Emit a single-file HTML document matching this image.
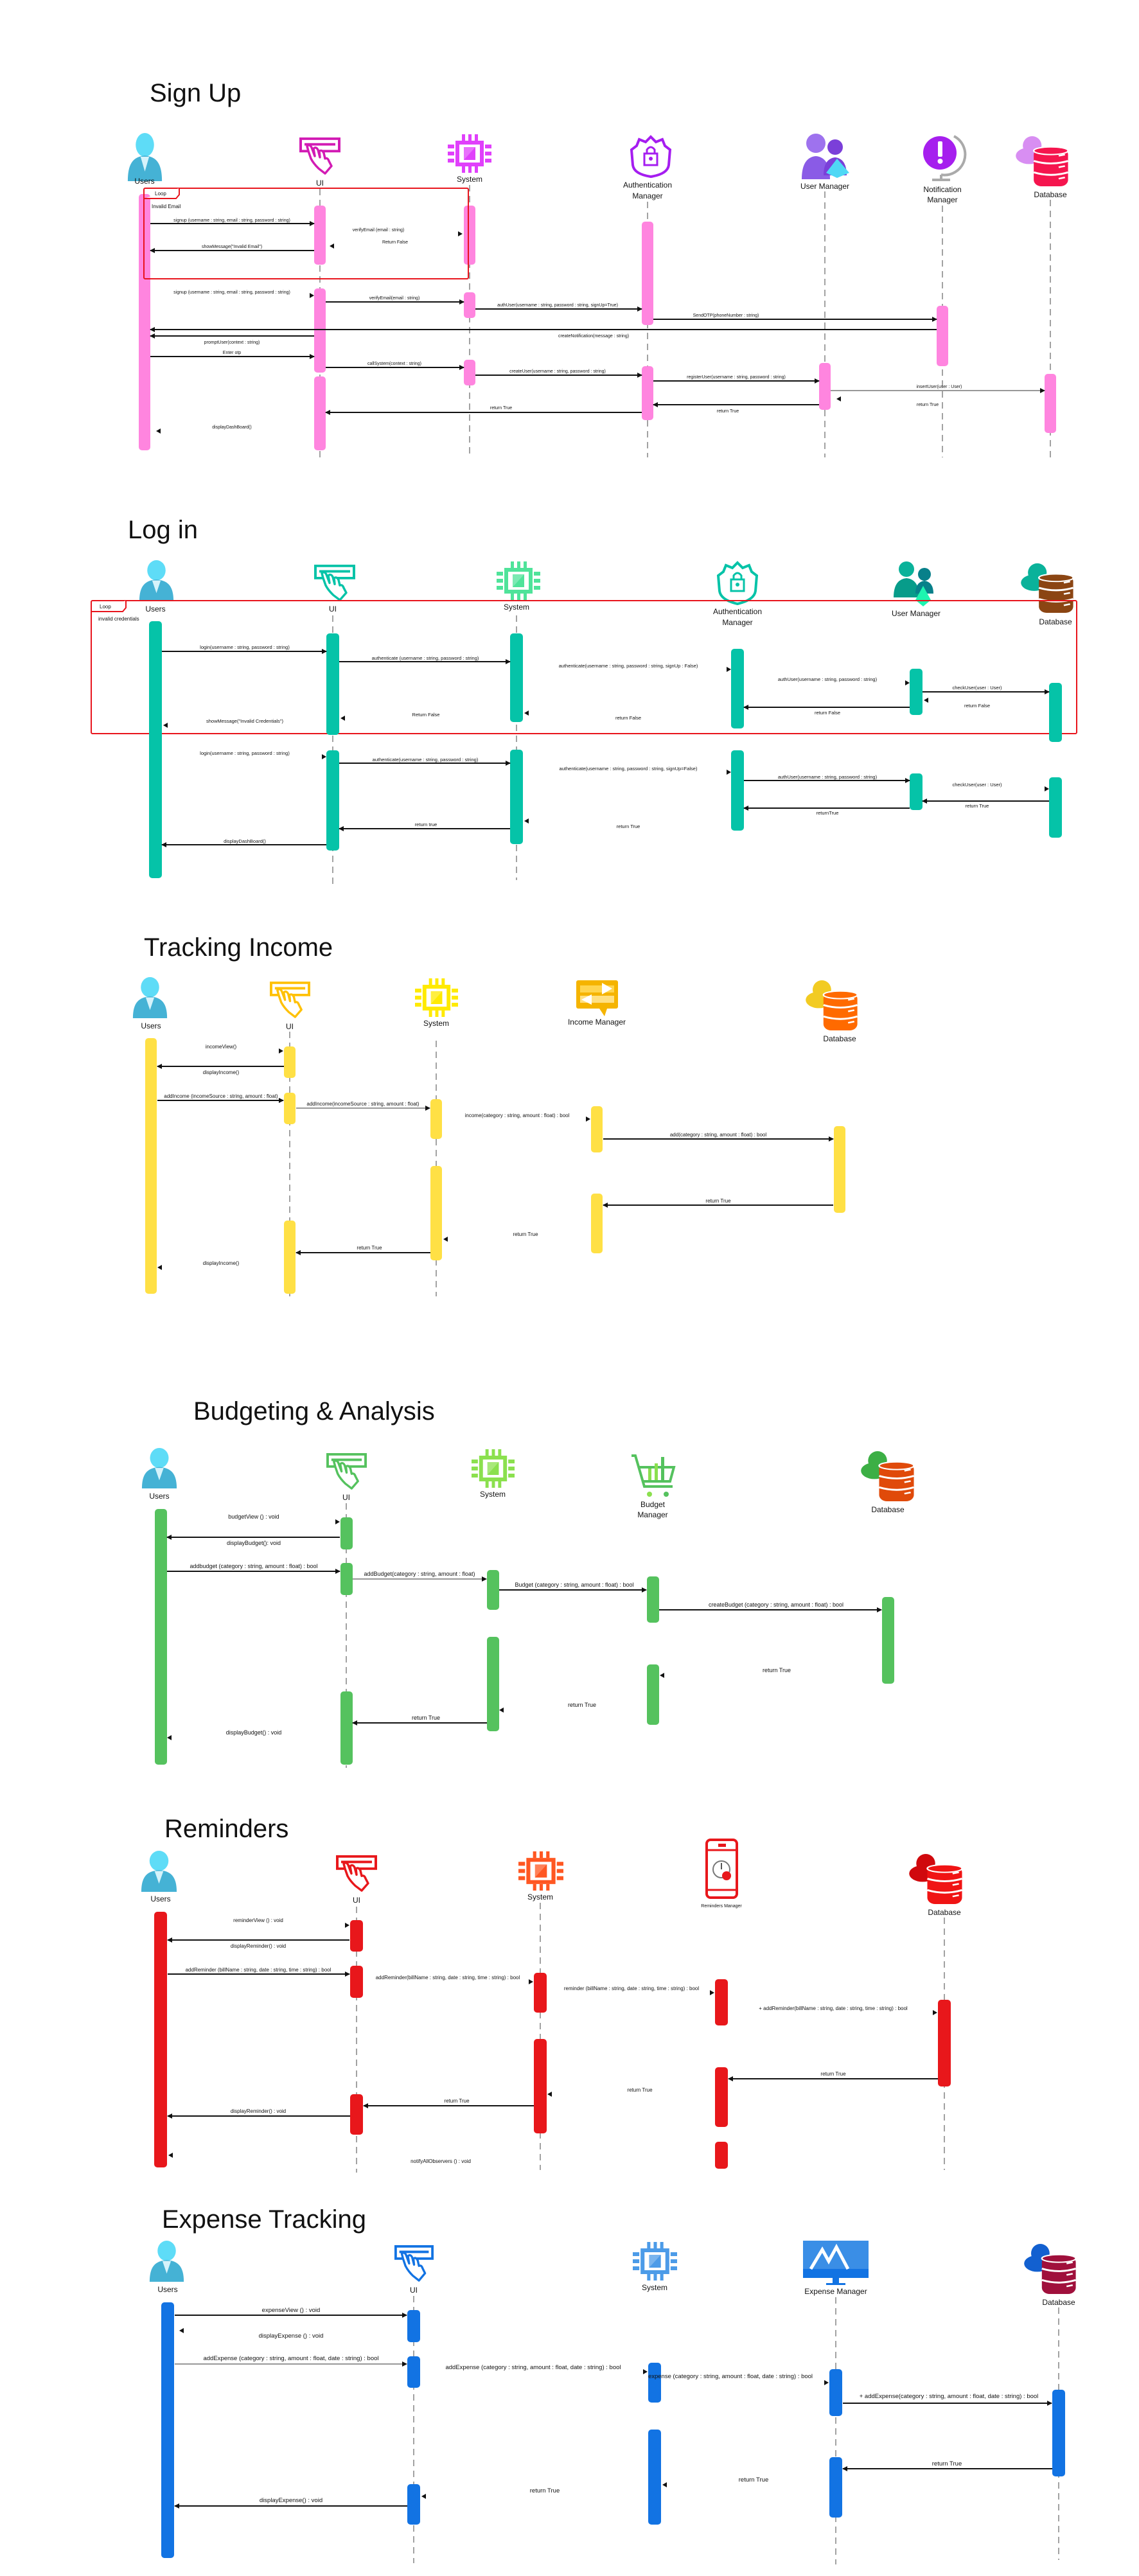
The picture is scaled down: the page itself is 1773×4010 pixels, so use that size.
<!DOCTYPE html>
<html><head><meta charset="utf-8"><style>
html,body{margin:0;padding:0;background:#fff}
svg{display:block}
text{font-family:"Liberation Sans",sans-serif;fill:#111}
.ttl{font-size:40px}
.lb{font-size:12px;text-anchor:middle}
.ll{stroke:#444;stroke-width:1;stroke-dasharray:10 7}
.m{stroke:#111;stroke-width:2;marker-end:url(#ah)}
.g{stroke:#777;stroke-width:1.5;marker-end:url(#ah)}
.ah{fill:#111}
.s1 .mt{font-size:7px;text-anchor:middle}
.s2 .mt{font-size:7.5px;text-anchor:middle}
.s3 .mt{font-size:8px;text-anchor:middle}
.s4 .mt{font-size:9px;text-anchor:middle}
.s5 .mt{font-size:8px;text-anchor:middle}
.s6 .mt{font-size:9.5px;text-anchor:middle}
</style></head><body>
<svg width="1773" height="4010" viewBox="0 0 1773 4010" xmlns="http://www.w3.org/2000/svg">
<defs>
<marker id="ah" markerWidth="8" markerHeight="8" refX="7" refY="4" orient="auto" markerUnits="userSpaceOnUse"><path d="M0,0L8,4L0,8Z" fill="#111"/></marker>
<symbol id="user" viewBox="0 0 60 85" preserveAspectRatio="none">
<ellipse cx="30" cy="21" rx="15" ry="21" fill="#5EDCF7"/>
<path d="M2 85C2 52 12 42 30 40C48 42 58 52 58 85Z" fill="#45B2D5"/>
<path d="M23 42L30 68L37 42Z" fill="#d6f3fb"/>
</symbol>
<symbol id="ui" viewBox="0 0 64 60" preserveAspectRatio="none">
<rect x="2" y="2" width="60" height="20" fill="none" stroke="currentColor" stroke-width="4"/>
<line x1="8" y1="11" x2="56" y2="11" stroke="currentColor" stroke-width="4"/>
<path d="M14 22L12 14Q16 10 19 16L24 30L22 18Q26 14 29 20L32 32L31 22Q35 19 38 25L40 34Q44 32 46 38L50 46L40 58L30 50Q22 42 18 34Z" fill="#fff" stroke="currentColor" stroke-width="3.5" stroke-linejoin="round"/>
</symbol>
<symbol id="chip" viewBox="0 0 68 60" preserveAspectRatio="none">
<g fill="currentColor">
<rect x="22" y="0" width="5" height="10"/><rect x="32" y="0" width="5" height="10"/><rect x="42" y="0" width="5" height="10"/>
<rect x="22" y="50" width="5" height="10"/><rect x="32" y="50" width="5" height="10"/><rect x="42" y="50" width="5" height="10"/>
<rect x="0" y="16" width="10" height="6"/><rect x="0" y="27" width="10" height="6"/><rect x="0" y="38" width="10" height="6"/>
<rect x="58" y="16" width="10" height="6"/><rect x="58" y="27" width="10" height="6"/><rect x="58" y="38" width="10" height="6"/>
<rect x="12" y="10" width="44" height="40"/></g>
<rect x="18" y="16" width="32" height="28" fill="#fff"/>
<rect x="25" y="20" width="18" height="20" fill="currentColor" opacity=".75"/>
<path d="M43 20L43 40L25 40Z" fill="currentColor"/>
</symbol>
<symbol id="db" viewBox="0 0 70 85" preserveAspectRatio="none">
<ellipse cx="22" cy="20" rx="12" ry="15" style="fill:var(--c1)"/>
<ellipse cx="18" cy="36" rx="17" ry="13" style="fill:var(--c1)"/>
<ellipse cx="34" cy="34" rx="12" ry="10" style="fill:var(--c1)"/>
<rect x="24" y="24" width="44" height="60" rx="10" style="fill:var(--c2)"/>
<ellipse cx="46" cy="28" rx="22" ry="6" style="fill:var(--c2)" stroke="#fff" stroke-width="2"/>
<path d="M24 44Q46 52 68 44M24 62Q46 70 68 62" stroke="#fff" stroke-width="3" fill="none"/>
<path d="M56 36L64 34M56 54L64 52M56 72L64 70" stroke="#fff" stroke-width="2.5"/>
</symbol>
</defs>

<!-- ============ SIGN UP ============ -->
<g class="s1">
<text class="ttl" x="233" y="158">Sign Up</text>
<use href="#user" x="197" y="207" width="57" height="75"/>
<use href="#ui" x="466" y="214" width="64" height="58" style="color:#D21BB4"/>
<use href="#chip" x="697" y="209" width="68" height="60" style="color:#E040FB"/>
<g transform="translate(983,213)"><path d="M30 0L38 8L48 4L52 14L60 20L58 44Q56 58 30 62Q4 58 2 44L0 20L8 14L12 4L22 8Z" fill="none" stroke="#A51DF0" stroke-width="4"/><rect x="20" y="26" width="20" height="18" fill="none" stroke="#A51DF0" stroke-width="3"/><path d="M24 26V20Q30 12 36 20V26" fill="none" stroke="#A51DF0" stroke-width="3"/><circle cx="30" cy="34" r="3" fill="#A51DF0"/></g>
<g transform="translate(1248,207)"><circle cx="22" cy="16" r="15" fill="#9E72EE"/><path d="M0 72Q0 38 22 36Q44 38 44 72Z" fill="#8A5BE6"/><circle cx="52" cy="22" r="12" fill="#7B3FD9"/><path d="M34 66Q34 40 52 38Q70 40 70 66Z" fill="#7B3FD9"/><path d="M55 40L38 62L55 70L74 62Z" fill="#4FD8F5"/></g>
<g transform="translate(1435,210)"><path d="M50 2A32 32 0 0 1 30 62" fill="none" stroke="#aaa" stroke-width="4"/><rect x="28" y="62" width="4" height="6" fill="#aaa"/><rect x="16" y="68" width="28" height="4" fill="#aaa"/><circle cx="28" cy="28" r="26" fill="#A61FEE"/><rect x="25" y="10" width="7" height="24" rx="2" fill="#fff"/><circle cx="28.5" cy="41" r="4" fill="#fff"/></g>
<use href="#db" x="1580" y="207" width="85" height="84" style="--c1:#D88EF2;--c2:#F5154E"/>
<text class="lb" x="225" y="286">Users</text>
<text class="lb" x="498" y="289">UI</text>
<text class="lb" x="731" y="283">System</text>
<text class="lb" x="1008" y="292">Authentication</text>
<text class="lb" x="1008" y="309">Manager</text>
<text class="lb" x="1284" y="294">User Manager</text>
<text class="lb" x="1467" y="299">Notification</text>
<text class="lb" x="1467" y="315">Manager</text>
<text class="lb" x="1635" y="307">Database</text>
<line class="ll" x1="498" y1="294" x2="498" y2="712"/>
<line class="ll" x1="731" y1="288" x2="731" y2="712"/>
<line class="ll" x1="1008" y1="314" x2="1008" y2="712"/>
<line class="ll" x1="1284" y1="298" x2="1284" y2="712"/>
<line class="ll" x1="1467" y1="320" x2="1467" y2="712"/>
<line class="ll" x1="1635" y1="311" x2="1635" y2="712"/>
<g fill="#FF85DF">
<rect x="216" y="302" width="18" height="399" rx="5"/>
<rect x="489" y="320" width="18" height="92" rx="5"/><rect x="489" y="449" width="18" height="131" rx="5"/><rect x="489" y="586" width="18" height="115" rx="5"/>
<rect x="722" y="320" width="18" height="92" rx="5"/><rect x="722" y="455" width="18" height="40" rx="5"/><rect x="722" y="560" width="18" height="40" rx="5"/>
<rect x="999" y="345" width="18" height="161" rx="5"/><rect x="999" y="570" width="18" height="84" rx="5"/>
<rect x="1458" y="476" width="18" height="94" rx="5"/>
<rect x="1275" y="565" width="18" height="73" rx="5"/>
<rect x="1626" y="582" width="18" height="92" rx="5"/>
</g>
<rect x="224" y="293" width="505" height="141" fill="none" stroke="#E8141C" stroke-width="2" rx="2"/>
<path d="M224 309H274L279 303V293" fill="#fff" stroke="#E8141C" stroke-width="2"/>
<text x="241" y="304" style="font-size:8px">Loop</text>
<text x="236" y="324" style="font-size:8px">Invalid Email</text>
<line class="m" x1="234" y1="348" x2="489" y2="348"/>
<text class="mt" x="361" y="345">signup (username : string, email : string, password : string)</text>
<text class="mt" x="589" y="360">verifyEmail (email : string)</text>
<path class="ah" d="M713 360L720 364L713 368Z"/>
<text class="mt" x="615" y="379">Return False</text>
<path class="ah" d="M520 379L513 383L520 387Z"/>
<line class="m" x1="489" y1="390" x2="234" y2="390"/>
<text class="mt" x="361" y="386">showMessage("Invalid Email")</text>
<text class="mt" x="361" y="457">signup (username : string, email : string, password : string)</text>
<path class="ah" d="M482 456L489 460L482 464Z"/>
<line class="m" x1="507" y1="470" x2="722" y2="470"/>
<text class="mt" x="614" y="466">verifyEmail(email : string)</text>
<line class="m" x1="740" y1="481" x2="999" y2="481"/>
<text class="mt" x="868" y="477">authUser(username : string, password : string, signUp=True)</text>
<line class="m" x1="1017" y1="497" x2="1458" y2="497"/>
<text class="mt" x="1130" y="493">SendOTP(phoneNumber : string)</text>
<line class="m" x1="1458" y1="513" x2="234" y2="513"/>
<text class="mt" x="924" y="525">createNotification(message : string)</text>
<line class="m" x1="489" y1="523" x2="234" y2="523"/>
<text class="mt" x="361" y="535">promptUser(context : string)</text>
<text class="mt" x="361" y="551">Enter otp</text>
<line class="m" x1="234" y1="555" x2="489" y2="555"/>
<line class="m" x1="507" y1="572" x2="722" y2="572"/>
<text class="mt" x="614" y="568">callSystem(context : string)</text>
<line class="m" x1="740" y1="584" x2="999" y2="584"/>
<text class="mt" x="868" y="580">createUser(username : string, password : string)</text>
<line class="m" x1="1017" y1="593" x2="1275" y2="593"/>
<text class="mt" x="1146" y="589">registerUser(username : string, password : string)</text>
<line class="g" x1="1293" y1="608" x2="1626" y2="608"/>
<text class="mt" x="1462" y="604">insertUser(user : User)</text>
<text class="mt" x="1444" y="632">return True</text>
<path class="ah" d="M1309 617L1302 621L1309 625Z"/>
<line class="m" x1="1275" y1="630" x2="1017" y2="630"/>
<text class="mt" x="1133" y="642">return True</text>
<line class="m" x1="999" y1="642" x2="507" y2="642"/>
<text class="mt" x="780" y="637">return True</text>
<text class="mt" x="361" y="667">displayDashBoard()</text>
<path class="ah" d="M250 667L243 671L250 675Z"/>
</g>

<!-- ============ LOG IN ============ -->
<g class="s2">
<text class="ttl" x="199" y="838">Log in</text>
<use href="#user" x="215" y="872" width="57" height="64"/>
<use href="#ui" x="489" y="879" width="64" height="57" style="color:#05C3A8"/>
<use href="#chip" x="773" y="874" width="68" height="60" style="color:#4FE39A"/>
<g transform="translate(1118,876)"><path d="M30 0L38 8L48 4L52 14L60 20L58 44Q56 58 30 64Q4 58 2 44L0 20L8 14L12 4L22 8Z" fill="none" stroke="#05C3A8" stroke-width="4"/><rect x="20" y="26" width="20" height="18" fill="none" stroke="#05C3A8" stroke-width="3"/><path d="M24 26V20Q30 12 36 20V26" fill="none" stroke="#05C3A8" stroke-width="3"/><circle cx="30" cy="34" r="3" fill="#05C3A8"/></g>
<g transform="translate(1389,872)"><circle cx="22" cy="14" r="12" fill="#0AB29A"/><path d="M2 58Q2 30 22 28Q42 30 42 58Z" fill="#079C8A"/><circle cx="50" cy="22" r="10" fill="#08808A"/><path d="M36 52Q36 34 50 32Q64 34 64 52Z" fill="#08808A"/><path d="M48 40L36 62L48 72L60 62Z" fill="#1DF5B0"/></g>
<use href="#db" x="1588" y="872" width="85" height="83" style="--c1:#0AB29A;--c2:#8B4513"/>
<rect x="142" y="935" width="1534" height="207" fill="none" stroke="#E8141C" stroke-width="2" rx="2"/>
<path d="M142 952H191L196 946V935" fill="#fff" stroke="#E8141C" stroke-width="2"/>
<text x="155" y="947" style="font-size:8px">Loop</text>
<text x="153" y="966" style="font-size:8px">invalid credentials</text>
<text class="lb" x="242" y="952">Users</text>
<text class="lb" x="518" y="952">UI</text>
<text class="lb" x="804" y="949">System</text>
<text class="lb" x="1148" y="956">Authentication</text>
<text class="lb" x="1148" y="973">Manager</text>
<text class="lb" x="1426" y="959">User Manager</text>
<text class="lb" x="1643" y="972">Database</text>
<line class="ll" x1="518" y1="958" x2="518" y2="1380"/>
<line class="ll" x1="804" y1="958" x2="804" y2="1370"/>
<g fill="#05C3A8">
<rect x="232" y="967" width="20" height="400" rx="5"/>
<rect x="508" y="986" width="20" height="158" rx="5"/><rect x="508" y="1168" width="20" height="156" rx="5"/>
<rect x="794" y="986" width="20" height="138" rx="5"/><rect x="794" y="1167" width="20" height="147" rx="5"/>
<rect x="1138" y="1010" width="20" height="124" rx="5"/><rect x="1138" y="1168" width="20" height="125" rx="5"/>
<rect x="1416" y="1041" width="20" height="72" rx="5"/><rect x="1416" y="1204" width="20" height="57" rx="5"/>
<rect x="1633" y="1063" width="20" height="92" rx="5"/><rect x="1633" y="1210" width="20" height="94" rx="5"/>
</g>
<line class="m" x1="252" y1="1014" x2="508" y2="1014"/>
<text class="mt" x="381" y="1010">login(username : string, password : string)</text>
<line class="m" x1="528" y1="1030" x2="794" y2="1030"/>
<text class="mt" x="662" y="1027">authenticate (username : string, password : string)</text>
<text class="mt" x="978" y="1039">authenticate(username : string, password : string, signUp : False)</text>
<path class="ah" d="M1131 1038L1138 1042L1131 1046Z"/>
<text class="mt" x="1288" y="1060">authUser(username : string, password : string)</text>
<path class="ah" d="M1409 1059L1416 1063L1409 1067Z"/>
<line class="m" x1="1436" y1="1077" x2="1633" y2="1077"/>
<text class="mt" x="1521" y="1073">checkUser(user : User)</text>
<text class="mt" x="1521" y="1101">return False</text>
<path class="ah" d="M1445 1086L1438 1090L1445 1094Z"/>
<line class="m" x1="1416" y1="1101" x2="1158" y2="1101"/>
<text class="mt" x="1288" y="1112">return False</text>
<text class="mt" x="978" y="1120">return False</text>
<path class="ah" d="M823 1106L816 1110L823 1114Z"/>
<text class="mt" x="663" y="1115">Return False</text>
<path class="ah" d="M537 1114L530 1118L537 1122Z"/>
<text class="mt" x="381" y="1125">showMessage("Invalid Credentials")</text>
<path class="ah" d="M261 1125L254 1129L261 1133Z"/>
<text class="mt" x="381" y="1175">login(username : string, password : string)</text>
<path class="ah" d="M501 1174L508 1178L501 1182Z"/>
<line class="m" x1="528" y1="1188" x2="794" y2="1188"/>
<text class="mt" x="662" y="1185">authenticate(username : string, password : string)</text>
<text class="mt" x="978" y="1199">authenticate(username : string, password : string, signUp=False)</text>
<path class="ah" d="M1131 1198L1138 1202L1131 1206Z"/>
<line class="m" x1="1158" y1="1215" x2="1416" y2="1215"/>
<text class="mt" x="1288" y="1212">authUser(username : string, password : string)</text>
<text class="mt" x="1521" y="1224">checkUser(user : User)</text>
<path class="ah" d="M1626 1224L1633 1228L1626 1232Z"/>
<line class="m" x1="1633" y1="1247" x2="1436" y2="1247"/>
<text class="mt" x="1521" y="1257">return True</text>
<line class="m" x1="1416" y1="1258" x2="1158" y2="1258"/>
<text class="mt" x="1288" y="1268">returnTrue</text>
<text class="mt" x="978" y="1289">return True</text>
<path class="ah" d="M823 1274L816 1278L823 1282Z"/>
<line class="m" x1="794" y1="1290" x2="528" y2="1290"/>
<text class="mt" x="663" y="1286">return true</text>
<line class="m" x1="508" y1="1315" x2="252" y2="1315"/>
<text class="mt" x="381" y="1312">displayDashBoard()</text>
</g>

<!-- ============ TRACKING INCOME ============ -->
<g class="s3">
<text class="ttl" x="224" y="1488">Tracking Income</text>
<use href="#user" x="205" y="1521" width="57" height="64"/>
<use href="#ui" x="420" y="1528" width="63" height="57" style="color:#FFC107"/>
<use href="#chip" x="646" y="1523" width="67" height="60" style="color:#FFEA00"/>
<g transform="translate(897,1526)"><rect x="0" y="0" width="65" height="44" rx="3" fill="#F5B400"/><rect x="6" y="8" width="53" height="11" fill="#FFD54F"/><rect x="6" y="24" width="53" height="11" fill="#FFE082"/><path d="M40 4L56 13L40 22Z" fill="#fff"/><path d="M24 22L8 30L24 38Z" fill="#fff"/><path d="M36 44L44 56L48 44Z" fill="#F5B400"/></g>
<use href="#db" x="1253" y="1521" width="84" height="84" style="--c1:#F2CB22;--c2:#FF6A00"/>
<text class="lb" x="235" y="1601">Users</text>
<text class="lb" x="451" y="1602">UI</text>
<text class="lb" x="679" y="1597">System</text>
<text class="lb" x="929" y="1595">Income Manager</text>
<text class="lb" x="1307" y="1621">Database</text>
<line class="ll" x1="451" y1="1606" x2="451" y2="2018"/>
<line class="ll" x1="679" y1="1620" x2="679" y2="2018"/>
<g fill="#FFE045">
<rect x="226" y="1616" width="18" height="398" rx="5"/>
<rect x="442" y="1629" width="18" height="49" rx="5"/><rect x="442" y="1701" width="18" height="49" rx="5"/><rect x="442" y="1900" width="18" height="114" rx="5"/>
<rect x="670" y="1711" width="18" height="62" rx="5"/><rect x="670" y="1815" width="18" height="147" rx="5"/>
<rect x="920" y="1722" width="18" height="72" rx="5"/><rect x="920" y="1858" width="18" height="93" rx="5"/>
<rect x="1298" y="1753" width="18" height="135" rx="5"/>
</g>
<text class="mt" x="344" y="1632">incomeView()</text>
<path class="ah" d="M434 1632L441 1636L434 1640Z"/>
<line class="m" x1="442" y1="1660" x2="245" y2="1660"/>
<text class="mt" x="344" y="1672">displayIncome()</text>
<line class="m" x1="245" y1="1713" x2="441" y2="1713"/>
<text class="mt" x="344" y="1709">addIncome (incomeSource : string, amount : float)</text>
<line class="g" x1="461" y1="1725" x2="669" y2="1725"/>
<text class="mt" x="565" y="1721">addIncome(incomeSource : string, amount : float)</text>
<text class="mt" x="805" y="1739">income(category : string, amount : float) : bool</text>
<path class="ah" d="M912 1738L919 1742L912 1746Z"/>
<line class="m" x1="939" y1="1773" x2="1297" y2="1773"/>
<text class="mt" x="1118" y="1769">add(category : string, amount : float) : bool</text>
<line class="m" x1="1297" y1="1876" x2="939" y2="1876"/>
<text class="mt" x="1118" y="1872">return True</text>
<text class="mt" x="818" y="1924">return True</text>
<path class="ah" d="M697 1925L690 1929L697 1933Z"/>
<line class="m" x1="670" y1="1950" x2="461" y2="1950"/>
<text class="mt" x="575" y="1945">return True</text>
<text class="mt" x="344" y="1969">displayIncome()</text>
<path class="ah" d="M252 1969L245 1973L252 1977Z"/>
</g>

<!-- ============ BUDGETING ============ -->
<g class="s4">
<text class="ttl" x="301" y="2210">Budgeting &amp; Analysis</text>
<use href="#user" x="219" y="2254" width="58" height="63"/>
<use href="#ui" x="508" y="2262" width="63" height="57" style="color:#55C25E"/>
<use href="#chip" x="734" y="2256" width="67" height="60" style="color:#8BE04E"/>
<g transform="translate(981,2264)" fill="none" stroke="#55C25E" stroke-width="4"><path d="M2 2L8 2L22 50H66"/><path d="M12 20H68L62 42H20"/><rect x="28" y="22" width="5" height="18" fill="#8BE04E" stroke="none"/><rect x="38" y="14" width="5" height="26" fill="#8BE04E" stroke="none"/><rect x="48" y="4" width="5" height="36" fill="#55C25E" stroke="none"/><circle cx="30" cy="62" r="4" fill="#8BE04E" stroke="none"/><circle cx="56" cy="62" r="4" fill="#55C25E" stroke="none"/></g>
<use href="#db" x="1339" y="2254" width="86" height="84" style="--c1:#3CAF45;--c2:#E04A0A"/>
<text class="lb" x="248" y="2333">Users</text>
<text class="lb" x="539" y="2335">UI</text>
<text class="lb" x="767" y="2330">System</text>
<text class="lb" x="1016" y="2346">Budget</text>
<text class="lb" x="1016" y="2362">Manager</text>
<text class="lb" x="1382" y="2354">Database</text>
<line class="ll" x1="539" y1="2340" x2="539" y2="2752"/>
<g fill="#55C25E">
<rect x="241" y="2349" width="19" height="398" rx="5"/>
<rect x="530" y="2362" width="19" height="50" rx="5"/><rect x="530" y="2433" width="19" height="50" rx="5"/><rect x="530" y="2633" width="19" height="114" rx="5"/>
<rect x="758" y="2444" width="19" height="62" rx="5"/><rect x="758" y="2548" width="19" height="147" rx="5"/>
<rect x="1007" y="2454" width="19" height="72" rx="5"/><rect x="1007" y="2591" width="19" height="94" rx="5"/>
<rect x="1373" y="2486" width="19" height="135" rx="5"/>
</g>
<text class="mt" x="395" y="2364">budgetView () : void</text>
<path class="ah" d="M522 2365L529 2369L522 2373Z"/>
<line class="m" x1="529" y1="2393" x2="260" y2="2393"/>
<text class="mt" x="395" y="2405">displayBudget(): void</text>
<line class="m" x1="260" y1="2446" x2="529" y2="2446"/>
<text class="mt" x="395" y="2441">addbudget (category : string, amount : float) : bool</text>
<line class="g" x1="549" y1="2458" x2="757" y2="2458"/>
<text class="mt" x="653" y="2453">addBudget(category : string, amount : float)</text>
<line class="m" x1="777" y1="2475" x2="1006" y2="2475"/>
<text class="mt" x="894" y="2470">Budget (category : string, amount : float) : bool</text>
<line class="m" x1="1026" y1="2506" x2="1372" y2="2506"/>
<text class="mt" x="1208" y="2501">createBudget (category : string, amount : float) : bool</text>
<text class="mt" x="1209" y="2603">return True</text>
<path class="ah" d="M1034 2604L1027 2608L1034 2612Z"/>
<text class="mt" x="906" y="2657">return True</text>
<path class="ah" d="M784 2658L777 2662L784 2666Z"/>
<line class="m" x1="758" y1="2682" x2="549" y2="2682"/>
<text class="mt" x="663" y="2677">return True</text>
<text class="mt" x="395" y="2700">displayBudget() : void</text>
<path class="ah" d="M267 2701L260 2705L267 2709Z"/>
</g>

<!-- ============ REMINDERS ============ -->
<g class="s5">
<text class="ttl" x="256" y="2860">Reminders</text>
<use href="#user" x="218" y="2881" width="59" height="64"/>
<use href="#ui" x="523" y="2888" width="64" height="57" style="color:#E8171B"/>
<use href="#chip" x="807" y="2882" width="70" height="61" style="color:#FF5722"/>
<g transform="translate(1098,2862)"><rect x="2" y="2" width="47" height="90" rx="6" fill="none" stroke="#E8171B" stroke-width="4"/><line x1="2" y1="18" x2="49" y2="18" stroke="#E8171B" stroke-width="3"/><line x1="2" y1="80" x2="49" y2="80" stroke="#E8171B" stroke-width="3"/><rect x="20" y="8" width="12" height="5" fill="#E8171B"/><circle cx="25" cy="48" r="13" fill="none" stroke="#777" stroke-width="2"/><line x1="25" y1="38" x2="25" y2="48" stroke="#555" stroke-width="2"/><circle cx="33" cy="58" r="7" fill="#E8171B"/></g>
<use href="#db" x="1414" y="2881" width="86" height="84" style="--c1:#D0090D;--c2:#F01414"/>
<text class="lb" x="250" y="2960">Users</text>
<text class="lb" x="555" y="2962">UI</text>
<text class="lb" x="841" y="2957">System</text>
<text x="1123" y="2969" style="font-size:7px;text-anchor:middle">Reminders Manager</text>
<text class="lb" x="1470" y="2981">Database</text>
<line class="ll" x1="555" y1="2968" x2="555" y2="3382"/>
<line class="ll" x1="841" y1="2962" x2="841" y2="3378"/>
<line class="ll" x1="1470" y1="2985" x2="1470" y2="3378"/>
<g fill="#E8171B">
<rect x="240" y="2976" width="20" height="398" rx="5"/>
<rect x="545" y="2989" width="20" height="49" rx="5"/><rect x="545" y="3060" width="20" height="50" rx="5"/><rect x="545" y="3260" width="20" height="63" rx="5"/>
<rect x="831" y="3071" width="20" height="62" rx="5"/><rect x="831" y="3174" width="20" height="147" rx="5"/>
<rect x="1113" y="3081" width="20" height="72" rx="5"/><rect x="1113" y="3218" width="20" height="93" rx="5"/><rect x="1113" y="3334" width="20" height="42" rx="5"/>
<rect x="1460" y="3113" width="20" height="135" rx="5"/>
</g>
<text class="mt" x="402" y="2992">reminderView () : void</text>
<path class="ah" d="M537 2993L544 2997L537 3001Z"/>
<line class="m" x1="544" y1="3020" x2="261" y2="3020"/>
<text class="mt" x="402" y="3032">displayReminder() : void</text>
<line class="m" x1="261" y1="3073" x2="544" y2="3073"/>
<text class="mt" x="402" y="3069">addReminder (billName : string, date : string, time : string) : bool</text>
<text class="mt" x="697" y="3081">addReminder(billName : string, date : string, time : string) : bool</text>
<path class="ah" d="M823 3081L830 3085L823 3089Z"/>
<text class="mt" x="983" y="3098">reminder (billName : string, date : string, time : string) : bool</text>
<path class="ah" d="M1105 3098L1112 3102L1105 3106Z"/>
<text class="mt" x="1297" y="3129">+ addReminder(billName : string, date : string, time : string) : bool</text>
<path class="ah" d="M1452 3129L1459 3133L1452 3137Z"/>
<line class="m" x1="1460" y1="3236" x2="1134" y2="3236"/>
<text class="mt" x="1297" y="3231">return True</text>
<text class="mt" x="996" y="3256">return True</text>
<path class="ah" d="M859 3256L852 3260L859 3264Z"/>
<line class="m" x1="831" y1="3278" x2="566" y2="3278"/>
<text class="mt" x="711" y="3273">return True</text>
<line class="m" x1="545" y1="3294" x2="261" y2="3294"/>
<text class="mt" x="402" y="3289">displayReminder() : void</text>
<path class="ah" d="M269 3351L262 3355L269 3359Z"/>
<text class="mt" x="686" y="3367">notifyAllObservers () : void</text>
</g>

<!-- ============ EXPENSE TRACKING ============ -->
<g class="s6">
<text class="ttl" x="252" y="3468">Expense Tracking</text>
<use href="#user" x="231" y="3488" width="57" height="64"/>
<use href="#ui" x="614" y="3495" width="61" height="57" style="color:#1273E3"/>
<use href="#chip" x="985" y="3490" width="69" height="60" style="color:#4C9BE8"/>
<g transform="translate(1250,3488)"><rect x="0" y="0" width="102" height="56" fill="#3A8EE6"/><rect x="0" y="44" width="102" height="14" fill="#1273E3"/><path d="M12 44L30 14L40 32L52 10L70 44" fill="none" stroke="#fff" stroke-width="5"/><rect x="46" y="58" width="10" height="8" fill="#1273E3"/><rect x="36" y="66" width="30" height="3" fill="#1273E3"/></g>
<use href="#db" x="1593" y="3488" width="84" height="84" style="--c1:#1260D0;--c2:#A0103C"/>
<text class="lb" x="261" y="3568">Users</text>
<text class="lb" x="644" y="3569">UI</text>
<text class="lb" x="1019" y="3565">System</text>
<text class="lb" x="1301" y="3571">Expense Manager</text>
<text class="lb" x="1648" y="3588">Database</text>
<line class="ll" x1="644" y1="3574" x2="644" y2="3990"/>
<line class="ll" x1="1301" y1="3576" x2="1301" y2="3992"/>
<line class="ll" x1="1648" y1="3592" x2="1648" y2="3985"/>
<g fill="#1273E3">
<rect x="251" y="3584" width="20" height="398" rx="5"/>
<rect x="634" y="3596" width="20" height="50" rx="5"/><rect x="634" y="3668" width="20" height="49" rx="5"/><rect x="634" y="3867" width="20" height="63" rx="5"/>
<rect x="1009" y="3678" width="20" height="62" rx="5"/><rect x="1009" y="3782" width="20" height="148" rx="5"/>
<rect x="1291" y="3688" width="20" height="73" rx="5"/><rect x="1291" y="3825" width="20" height="94" rx="5"/>
<rect x="1638" y="3720" width="20" height="135" rx="5"/>
</g>
<line class="m" x1="272" y1="3604" x2="633" y2="3604"/>
<text class="mt" x="453" y="3599">expenseView () : void</text>
<path class="ah" d="M286 3624L279 3628L286 3632Z"/>
<text class="mt" x="453" y="3639">displayExpense () : void</text>
<line class="g" x1="272" y1="3680" x2="633" y2="3680"/>
<text class="mt" x="453" y="3674">addExpense (category : string, amount : float, date : string) : bool</text>
<text class="mt" x="830" y="3688">addExpense (category : string, amount : float, date : string) : bool</text>
<path class="ah" d="M1001 3688L1008 3692L1001 3696Z"/>
<text class="mt" x="1137" y="3702">expense (category : string, amount : float, date : string) : bool</text>
<path class="ah" d="M1283 3705L1290 3709L1283 3713Z"/>
<line class="m" x1="1312" y1="3741" x2="1637" y2="3741"/>
<text class="mt" x="1477" y="3733">+ addExpense(category : string, amount : float, date : string) : bool</text>
<line class="m" x1="1638" y1="3843" x2="1312" y2="3843"/>
<text class="mt" x="1474" y="3838">return True</text>
<text class="mt" x="1173" y="3863">return True</text>
<path class="ah" d="M1038 3864L1031 3868L1038 3872Z"/>
<text class="mt" x="848" y="3880">return True</text>
<path class="ah" d="M663 3882L656 3886L663 3890Z"/>
<line class="m" x1="634" y1="3901" x2="272" y2="3901"/>
<text class="mt" x="453" y="3895">displayExpense() : void</text>
</g>
</svg>
</body></html>
